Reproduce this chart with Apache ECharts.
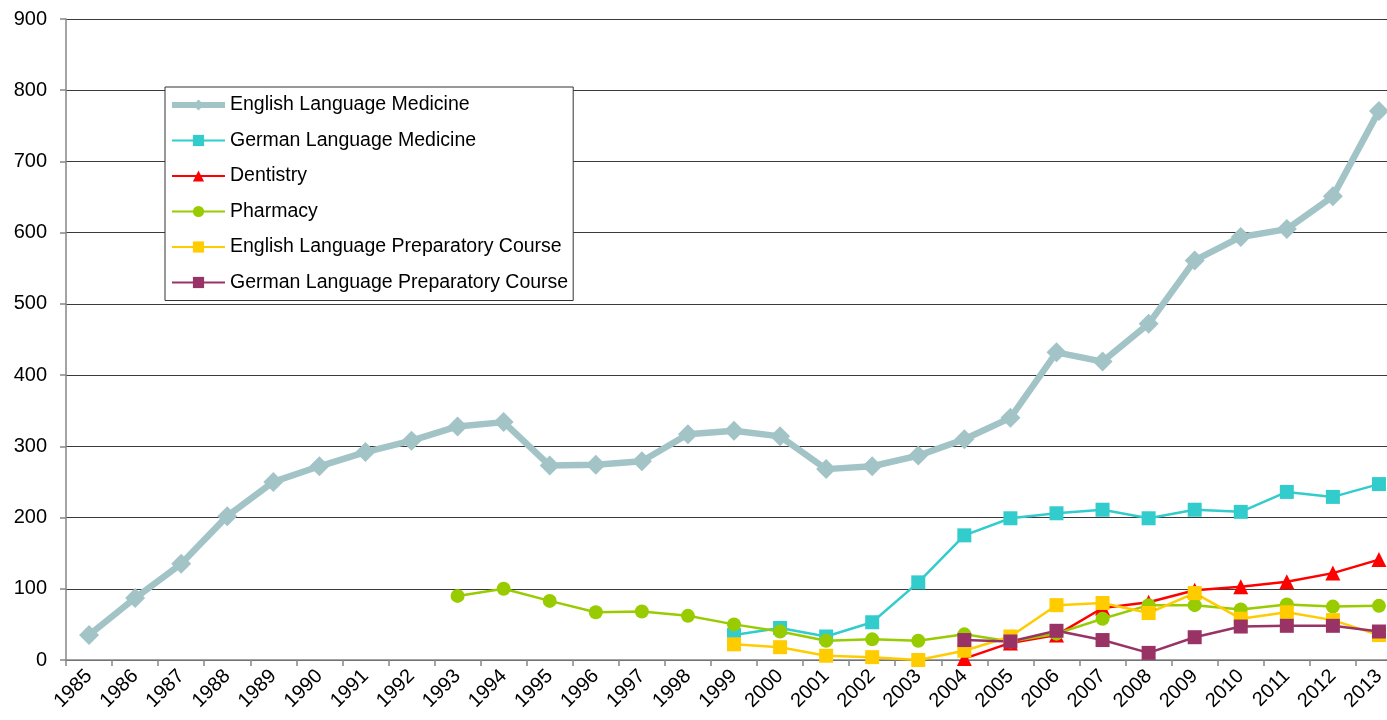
<!DOCTYPE html>
<html>
<head>
<meta charset="utf-8">
<title>Students by programme</title>
<script src="https://cdn.jsdelivr.net/npm/echarts@6/dist/echarts.min.js"></script>
<style>
  html, body { margin: 0; padding: 0; background: #fff; overflow: hidden; }
  /* the plot runs a little past the right edge of the window, as in the original */
  #chart { width: 1402px; height: 720px; }
</style>
</head>
<body>
<div id="chart"></div>
<script>
// years on the x axis
var years = ['1985', '1986', '1987', '1988', '1989', '1990', '1991', '1992', '1993', '1994',
  '1995', '1996', '1997', '1998', '1999', '2000', '2001', '2002', '2003', '2004',
  '2005', '2006', '2007', '2008', '2009', '2010', '2011', '2012', '2013']

// values, null where the series has no point
var englishMedicine = [35, 87, 135, 202, 250, 272, 292, 308, 328, 334,
  273, 274, 279, 317, 322, 314, 268, 272, 287, 310,
  340, 432, 419, 472, 561, 594, 605, 651, 771]
var germanMedicine = [null, null, null, null, null, null, null, null, null, null,
  null, null, null, null, 35, 45, 33, 53, 109, 175,
  199, 206, 211, 199, 211, 208, 236, 229, 247]
var dentistry = [null, null, null, null, null, null, null, null, null, null,
  null, null, null, null, null, null, null, null, null, 2,
  24, 35, 73, 81, 98, 103, 110, 122, 141]
var pharmacy = [null, null, null, null, null, null, null, null, 90, 100,
  83, 67, 68, 62, 50, 40, 27, 29, 27, 36,
  26, 37, 58, 77, 77, 71, 78, 75, 76]
var englishPrep = [null, null, null, null, null, null, null, null, null, null,
  null, null, null, null, 22, 18, 6, 4, 0, 13,
  33, 77, 80, 66, 94, 58, 67, 56, 35]
var germanPrep = [null, null, null, null, null, null, null, null, null, null,
  null, null, null, null, null, null, null, null, null, 28,
  26, 41, 28, 10, 32, 47, 48, 48, 40]

var yTicks = { min: 0, max: 900, interval: 100 }

var font = '"Liberation Sans", Arial, sans-serif'

var myChart = echarts.init(document.getElementById('chart'))

// helper for the thin lines
function thinLine (name, data, color, symbol, size) {
  return {
    name: name,
    type: 'line',
    data: data,
    symbol: symbol,
    symbolSize: size,
    showSymbol: true,
    lineStyle: { color: color, width: 2.5 },
    itemStyle: { color: color }
  }
}

var option = {
  animation: false,
  grid: { left: 66, top: 19, right: 0, bottom: 60, containLabel: false },
  legend: {
    orient: 'vertical',
    left: 165,
    top: 87,
    padding: [8, 5, 8, 4],
    itemWidth: 53,
    itemHeight: 14,
    itemGap: 15.5,
    borderColor: '#333',
    borderWidth: 1,
    backgroundColor: '#fff',
    textStyle: { fontFamily: font, fontSize: 19.5, color: '#000' },
    data: [
      { name: 'English Language Medicine', lineStyle: { width: 6 } },
      'German Language Medicine', 'Dentistry', 'Pharmacy',
      'English Language Preparatory Course', 'German Language Preparatory Course'
    ]
  },
  xAxis: {
    type: 'category',
    data: years,
    boundaryGap: true,
    axisLine: { lineStyle: { color: '#868686', width: 1.5 } },
    axisTick: { show: true, length: 6, inside: false, lineStyle: { color: '#868686', width: 1.5 } },
    axisLabel: { rotate: 45, margin: 13, fontFamily: font, fontSize: 20, color: '#000', interval: 0 },
    splitLine: { show: false }
  },
  yAxis: {
    type: 'value',
    min: yTicks.min,
    max: yTicks.max,
    interval: yTicks.interval,
    axisLine: { show: true, lineStyle: { color: '#868686', width: 1.5 } },
    axisTick: { show: true, length: 6, lineStyle: { color: '#868686', width: 1.5 } },
    axisLabel: { margin: 19, fontFamily: font, fontSize: 20, color: '#000' },
    splitLine: { show: true, lineStyle: { color: '#3a3a3a', width: 1 } }
  },
  series: [
    {
      name: 'English Language Medicine',
      type: 'line',
      data: englishMedicine,
      symbol: 'diamond',
      symbolSize: 20,
      lineStyle: { color: '#a2c4c7', width: 6.5 },
      itemStyle: { color: '#a2c4c7' }
    },
    thinLine('German Language Medicine', germanMedicine, '#33cccc', 'rect', 14),
    thinLine('Dentistry', dentistry, '#ff0000', 'triangle', 15),
    thinLine('Pharmacy', pharmacy, '#99cc00', 'circle', 14),
    thinLine('English Language Preparatory Course', englishPrep, '#ffcc00', 'rect', 14),
    thinLine('German Language Preparatory Course', germanPrep, '#993366', 'rect', 14)
  ]
}
myChart.setOption(option)
</script>
</body>
</html>
